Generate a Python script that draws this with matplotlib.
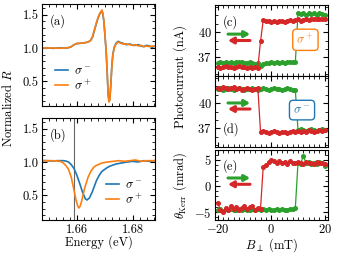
import matplotlib
matplotlib.use("Agg")
import matplotlib.pyplot as plt
from matplotlib.ticker import MultipleLocator, FixedLocator

plt.rcParams.update({
    "font.family": "cmr10",
    "mathtext.fontset": "cm",
    "axes.formatter.use_mathtext": True,
    "font.size": 9,
    "axes.linewidth": 0.8,
    "xtick.direction": "in", "ytick.direction": "in",
    "xtick.top": True, "ytick.right": True,
    "xtick.major.size": 3.5, "ytick.major.size": 3.5,
    "xtick.minor.size": 2, "ytick.minor.size": 2,
    "xtick.major.pad": 2.5, "ytick.major.pad": 2.5,
})

# ---------- panel (a) ----------
E_a = [1.6475, 1.6495, 1.6515, 1.6535, 1.6555, 1.657, 1.658, 1.659, 1.660, 1.661,
       1.662, 1.663, 1.664, 1.6648, 1.6655, 1.6662, 1.667, 1.6676, 1.6682, 1.6687,
       1.669, 1.6693, 1.6697, 1.6701, 1.6705, 1.6709, 1.6712, 1.6715, 1.6718, 1.6721,
       1.6725, 1.6729, 1.6734, 1.674, 1.6748, 1.6757, 1.6766, 1.6777, 1.679, 1.680,
       1.681, 1.682, 1.683, 1.684, 1.685, 1.686, 1.687, 1.688]
Ra_minus = [1.00, 1.00, 0.995, 1.00, 1.00, 1.005, 1.02, 1.05, 1.065, 1.07,
            1.075, 1.08, 1.09, 1.11, 1.15, 1.25, 1.37, 1.45, 1.51, 1.54,
            1.56, 1.51, 1.39, 1.17, 0.94, 0.60, 0.31, 0.20, 0.23, 0.41,
            0.71, 0.91, 1.01, 1.07, 1.10, 1.08, 1.07, 1.05, 1.06, 1.04,
            1.04, 1.05, 1.03, 1.02, 1.04, 1.03, 1.01, 1.03]
Ra_plus = [1.00, 1.00, 1.00, 0.995, 1.00, 1.005, 1.02, 1.05, 1.07, 1.07,
           1.075, 1.08, 1.09, 1.11, 1.16, 1.26, 1.38, 1.46, 1.52, 1.55,
           1.57, 1.52, 1.40, 1.18, 0.95, 0.60, 0.30, 0.19, 0.22, 0.40,
           0.70, 0.90, 1.00, 1.06, 1.09, 1.07, 1.06, 1.06, 1.05, 1.04,
           1.05, 1.03, 1.04, 1.02, 1.03, 1.02, 1.03, 1.02]

# ---------- panel (b) ----------
E_b_minus = [1.6475, 1.649, 1.651, 1.653, 1.655, 1.656, 1.657, 1.658, 1.659, 1.660,
             1.661, 1.662, 1.663, 1.6636, 1.6645, 1.6655, 1.667, 1.668, 1.669, 1.670,
             1.671, 1.672, 1.674, 1.676, 1.678, 1.680, 1.682, 1.684, 1.686, 1.688]
Rb_minus = [1.02, 1.02, 1.015, 1.02, 1.02, 1.015, 1.00, 0.96, 0.90, 0.80,
            0.68, 0.55, 0.45, 0.43, 0.46, 0.55, 0.72, 0.80, 0.86, 0.89,
            0.92, 0.94, 0.97, 0.985, 1.00, 1.01, 1.00, 1.02, 1.01, 1.02]
E_b_plus = [1.6475, 1.649, 1.651, 1.653, 1.654, 1.655, 1.656, 1.657, 1.658, 1.659,
            1.6597, 1.6603, 1.6607, 1.6612, 1.6618, 1.6628, 1.664, 1.665, 1.666, 1.667,
            1.669, 1.671, 1.673, 1.675, 1.677, 1.679, 1.681, 1.683, 1.685, 1.688]
Rb_plus = [1.02, 1.02, 1.02, 1.015, 1.01, 0.99, 0.95, 0.89, 0.77, 0.57,
           0.43, 0.34, 0.31, 0.34, 0.43, 0.61, 0.77, 0.86, 0.92, 0.95,
           0.985, 1.00, 1.01, 1.02, 1.01, 1.02, 1.03, 1.01, 1.02, 1.02]
E_line = 1.6588

# ---------- panels (c)-(e) ----------
B = list(range(-20, 21))
Ic_up = [36.3, 36.4, 36.3, 36.4, 36.3, 36.4, 36.3, 36.4, 36.5, 36.4, 36.3, 36.3, 36.4, 36.3, 36.2, 36.3,
         36.0, 36.2, 36.3, 36.3, 36.4, 36.3, 36.4, 36.3, 36.4, 36.3, 36.4, 36.5, 36.4, 36.4,
         42.3, 42.1, 42.2, 42.0, 42.2, 42.1, 42.2, 42.0, 42.2, 42.1, 42.0]
Ic_down = [35.9, 35.8, 35.9, 36.0, 35.9, 35.9, 35.8, 35.9, 36.0, 35.9, 35.9, 35.8, 35.9, 35.8, 35.9, 35.8,
           38.9,
           41.4, 41.3, 41.3, 41.2, 41.3, 41.2, 41.3, 41.3, 41.2, 41.3, 41.4, 41.3, 41.4, 41.5, 41.3,
           41.4, 41.5, 41.4, 41.6, 41.5, 41.6, 41.5, 41.6, 41.5]
Id_up = [41.7, 41.8, 41.6, 41.7, 41.8, 41.7, 41.6, 41.7, 41.8, 41.7, 41.6, 41.7, 41.7, 41.8, 41.7,
         41.6, 41.7, 41.8, 41.7, 41.6, 41.7, 41.8, 41.7, 41.7, 41.6, 41.7, 41.8, 41.7, 41.6, 41.5,
         36.8, 36.9, 36.8, 36.7, 36.8, 36.9, 36.8, 36.7, 36.8, 36.9, 36.8]
Id_down = [41.8, 41.7, 41.9, 41.8, 41.7, 41.8, 41.9, 41.7, 41.8, 41.6, 41.7, 41.8, 41.7, 41.6, 41.7, 41.8,
           36.6, 36.7, 36.6, 36.5, 36.6, 36.7, 36.6, 36.5, 36.6, 36.6, 36.5, 36.6, 36.7, 36.6,
           36.7, 36.6, 36.7, 36.6, 36.8, 36.7, 36.6, 36.7, 36.8, 36.7, 36.8]
Ke_up = [-4.6, -4.4, -4.7, -4.3, -4.5, -4.4, -4.6, -4.5, -4.3, -4.6, -4.4, -4.5, -4.6, -4.4, -4.5,
         -4.3, -4.6, -4.4, -4.5, -4.4, -4.6, -4.5, -4.3, -4.5, -4.4, -4.6, -4.5, -4.3, -4.4, -4.2,
         4.5, 4.3, 5.8, 4.4, 4.6, 4.3, 4.5, 4.2, 4.6, 4.4, 3.9]
Ke_down = [-3.2, -4.6, -5.0, -4.2, -4.5, -3.9, -4.4, -4.1, -4.6, -4.2, -3.8, -4.4, -4.1, -3.9, -4.5,
           -4.2, -4.3,
           3.6, 4.1, 4.6, 5.0, 4.7, 4.4, 4.8, 4.5, 4.6, 4.3, 4.7, 4.5, 4.4, 4.6, 4.5, 4.3, 4.6, 4.4,
           4.5, 4.3, 4.6, 4.4, 4.5, 4.3]

C_MINUS = "#1f77b4"
C_PLUS = "#ff7f0e"
C_UP = "#2ca02c"
C_DOWN = "#d62728"

W, H = 337, 254
fig = plt.figure(figsize=(W / 100, H / 100), dpi=100)


def box(x0, y0, x1, y1):
    return [x0 / W, 1 - y1 / H, (x1 - x0) / W, (y1 - y0) / H]


ax_a = fig.add_axes(box(42, 4, 155, 106))
ax_b = fig.add_axes(box(42, 118, 155, 220))
ax_c = fig.add_axes(box(215, 5, 328, 76))
ax_d = fig.add_axes(box(215, 76, 328, 147))
ax_e = fig.add_axes(box(215, 150, 328, 220))

leg_kw = dict(frameon=False, handlelength=1.0, handletextpad=0.5, labelspacing=0.1,
              borderpad=0.3)

# (a)
ax_a.plot(E_a, Ra_minus, color=C_MINUS, lw=1.2, label=r"$\sigma^-$")
ax_a.plot(E_a, Ra_plus, color=C_PLUS, lw=1.2, label=r"$\sigma^+$")
ax_a.legend(loc="lower left", bbox_to_anchor=(0.03, 0.04), **leg_kw)
ax_a.text(0.07, 0.9, "(a)", transform=ax_a.transAxes, va="top", ha="left")

# (b)
ax_b.axvline(E_line, color="0.4", lw=0.8)
ax_b.plot(E_b_minus, Rb_minus, color=C_MINUS, lw=1.2, label=r"$\sigma^-$")
ax_b.plot(E_b_plus, Rb_plus, color=C_PLUS, lw=1.2, label=r"$\sigma^+$")
ax_b.legend(loc="lower right", bbox_to_anchor=(0.98, 0.04), **leg_kw)
ax_b.text(0.07, 0.9, "(b)", transform=ax_b.transAxes, va="top", ha="left")
ax_b.set_xlabel("Energy (eV)", labelpad=0)

for ax in (ax_a, ax_b):
    ax.set_xlim(1.6475, 1.688)
    ax.set_ylim(0.13, 1.66)
    ax.xaxis.set_major_locator(FixedLocator([1.66, 1.68]))
    ax.xaxis.set_minor_locator(MultipleLocator(0.0025))
    ax.yaxis.set_major_locator(FixedLocator([0.5, 1.0, 1.5]))
    ax.yaxis.set_minor_locator(MultipleLocator(0.1))
    ax.xaxis.set_major_formatter(plt.FuncFormatter(lambda v, p: f"{v:.2f}"))
    ax.yaxis.set_major_formatter(plt.FuncFormatter(lambda v, p: f"{v:.1f}"))
    ax.tick_params(which="both", top=True, right=True)
ax_a.tick_params(labelbottom=False)

fig.text(8 / W, 1 - 108 / H, r"Normalized $R$", rotation=90, ha="center", va="center")

# (c)-(e)
mk = dict(marker="o", ms=2.6, lw=0.9)
ax_c.plot(B, Ic_up, color=C_UP, **mk)
ax_c.plot(B, Ic_down, color=C_DOWN, **mk)
ax_d.plot(B, Id_up, color=C_UP, **mk)
ax_d.plot(B, Id_down, color=C_DOWN, **mk)
ax_e.plot(B, Ke_up, color=C_UP, **mk)
ax_e.plot(B, Ke_down, color=C_DOWN, **mk)

for ax in (ax_c, ax_d, ax_e):
    ax.set_xlim(-21, 21.2)
    ax.xaxis.set_major_locator(FixedLocator([-20, 0, 20]))
    ax.xaxis.set_minor_locator(MultipleLocator(2))
    ax.yaxis.set_minor_locator(MultipleLocator(1))
    ax.tick_params(which="both", top=True, right=True)
for ax in (ax_c, ax_d):
    ax.set_ylim(34.8, 43.2)
    ax.yaxis.set_major_locator(FixedLocator([37, 40]))
    ax.tick_params(labelbottom=False)
ax_e.set_ylim(-6.5, 6.9)
ax_e.yaxis.set_major_locator(FixedLocator([-5, 0, 5]))
ax_e.set_xlabel(r"$B_\perp$ (mT)")
ax_e.xaxis.set_label_coords(0.5, -0.23)

arrow_g = dict(arrowstyle="-|>,head_length=0.35,head_width=0.2", color=C_UP, lw=2.2,
               shrinkA=0, shrinkB=0)
arrow_r = dict(arrowstyle="-|>,head_length=0.35,head_width=0.2", color=C_DOWN, lw=2.2,
               shrinkA=0, shrinkB=0)
for ax, yg, yr in ((ax_c, 0.59, 0.50), (ax_d, 0.62, 0.535), (ax_e, 0.60, 0.51)):
    ax.annotate("", xy=(0.31, yg), xytext=(0.115, yg), xycoords="axes fraction",
                arrowprops=arrow_g)
    ax.annotate("", xy=(0.115, yr), xytext=(0.31, yr), xycoords="axes fraction",
                arrowprops=arrow_r)

ax_c.text(0.80, 0.51, r"$\sigma^+$", transform=ax_c.transAxes, ha="center", va="center",
          color=C_PLUS, fontsize=9, zorder=5,
          bbox=dict(boxstyle="round,pad=0.3", fc="white", ec=C_PLUS, lw=1.0))
ax_d.text(0.77, 0.52, r"$\sigma^-$", transform=ax_d.transAxes, ha="center", va="center",
          color=C_MINUS, fontsize=9, zorder=5,
          bbox=dict(boxstyle="round,pad=0.3", fc="white", ec=C_MINUS, lw=1.0))

ax_c.text(0.07, 0.86, "(c)", transform=ax_c.transAxes, va="top", ha="left")
ax_d.text(0.07, 0.15, "(d)", transform=ax_d.transAxes, va="bottom", ha="left")
ax_e.text(0.07, 0.87, "(e)", transform=ax_e.transAxes, va="top", ha="left")

fig.text(180 / W, 1 - 76 / H, "Photocurrent (nA)", rotation=90, ha="center", va="center")
fig.text(180 / W, 1 - 185 / H, r"$\theta_{\rm Kerr}$ (mrad)", rotation=90, ha="center", va="center")

fig.savefig("out.png", dpi=100)
